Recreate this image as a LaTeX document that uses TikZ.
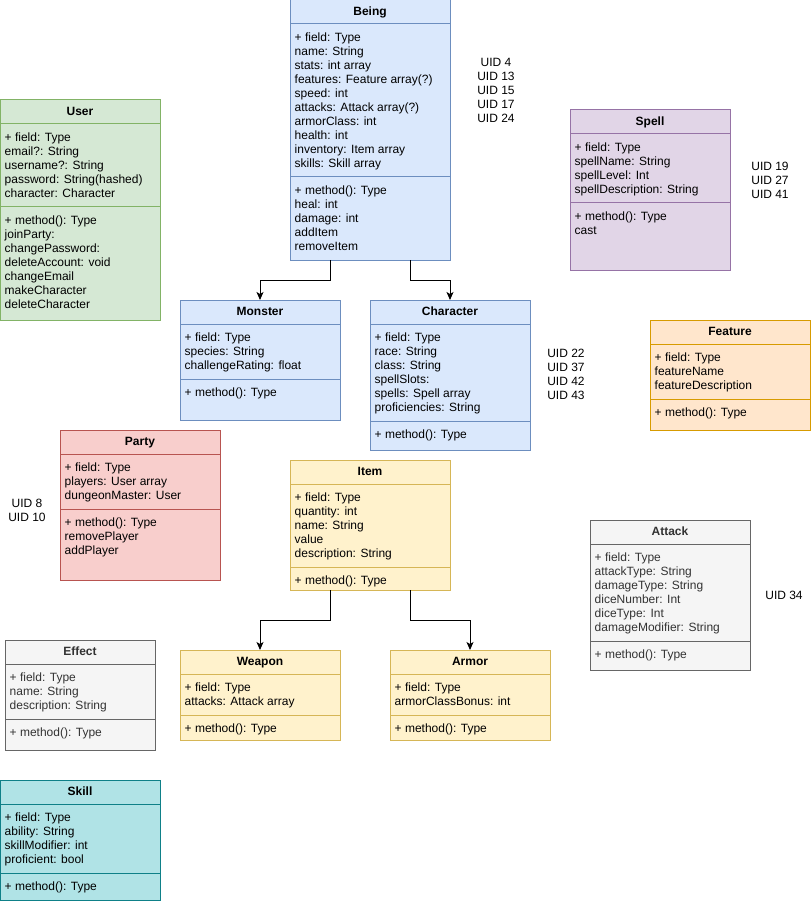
\documentclass[tikz,border=0pt]{standalone}
\usepackage{fontspec}
\setmainfont{Liberation Sans}
\usetikzlibrary{arrows.meta}
\definecolor{bluefill}{HTML}{DAE8FC}\definecolor{blueline}{HTML}{6C8EBF}
\definecolor{greenfill}{HTML}{D5E8D4}\definecolor{greenline}{HTML}{82B366}
\definecolor{purplefill}{HTML}{E1D5E7}\definecolor{purpleline}{HTML}{9673A6}
\definecolor{orangefill}{HTML}{FFE6CC}\definecolor{orangeline}{HTML}{D79B00}
\definecolor{redfill}{HTML}{F8CECC}\definecolor{redline}{HTML}{B85450}
\definecolor{yellowfill}{HTML}{FFF2CC}\definecolor{yellowline}{HTML}{D6B656}
\definecolor{grayfill}{HTML}{F5F5F5}\definecolor{grayline}{HTML}{666666}
\definecolor{tealfill}{HTML}{B0E3E6}\definecolor{tealline}{HTML}{0E8088}
\definecolor{darktext}{HTML}{333333}
\tikzset{
  classbox/.style={draw=#1line, fill=#1fill, line width=1pt, inner sep=0pt, outer sep=0pt, anchor=north west},
  sepline/.style={draw=#1line, line width=1pt},
  classtitle/.style={font=\fontsize{12}{14}\selectfont\bfseries, inner sep=0pt, anchor=base},
  membertext/.style={font=\fontsize{12}{14}\selectfont, inner sep=0pt, anchor=base west},
  uidtext/.style={font=\fontsize{12}{14}\selectfont, inner sep=0pt, anchor=base},
  inherit/.style={draw=black, line width=1pt, -{Stealth[length=8pt,width=7pt,inset=2pt]}},
}
% #1 name, #2 colour, #3 text colour, #4 x, #5 y, #6 w, #7 h, #8 y of second separator, #9 title
\newcommand\umlclass[9]{%
  \node[classbox=#2, minimum width=#6pt, minimum height=#7pt] (#1) at (#4,#5) {};
  \draw[sepline=#2] (#4,{#5+24}) -- ({#4+#6},{#5+24});
  \draw[sepline=#2] (#4,#8) -- ({#4+#6},#8);
  \node[classtitle, text=#3] (#1-title) at ({#4+#6/2},{#5+15.8}) {#9};
}
% #1 prefix, #2 box x, #3 centre y of first line, #4 text colour, #5 lines
\newcommand\umlmembers[5]{%
  \foreach \memberline [count=\k] in {#5} {
    \node[membertext, text=#4] (#1-\k) at ({#2+4.5},{#3+4.3+14*(\k-1)}) {\memberline};
  }
}
% #1 prefix, #2 centre x, #3 centre y of first line, #4 lines
\newcommand\uidlist[4]{%
  \foreach \uidline [count=\k] in {#4} {
    \node[uidtext] (#1-\k) at ({#2},{#3+4.3+14*(\k-1)}) {\uidline};
  }
}
\begin{document}
\begin{tikzpicture}[x=1pt,y=-1pt]
\useasboundingbox (0,0) rectangle (811,901);
\fill[white] (0,0) rectangle (811,901);

% Being
\umlclass{being}{blue}{black}{290}{0}{160}{260}{177}{Being}
\umlmembers{being-f}{290}{37}{black}{+ field: Type, name: String, stats: int array, features: Feature array(?), speed: int, attacks: Attack array(?), armorClass: int, health: int, inventory: Item array, skills: Skill array}
\umlmembers{being-m}{290}{190}{black}{+ method(): Type, heal: int, damage: int, addItem, removeItem}
\uidlist{being-uid}{496}{62.5}{UID 4, UID 13, UID 15, UID 17, UID 24}

% User
\umlclass{user}{green}{black}{0}{100}{160}{220}{207}{User}
\umlmembers{user-f}{0}{137}{black}{+ field: Type, email?: String, username?: String, password: String(hashed), character: Character}
\umlmembers{user-m}{0}{220}{black}{+ method(): Type, joinParty:, changePassword:, deleteAccount: void, changeEmail, makeCharacter, deleteCharacter}

% Monster
\umlclass{monster}{blue}{black}{180}{300}{160}{120}{379}{Monster}
\umlmembers{monster-f}{180}{337}{black}{+ field: Type, species: String, challengeRating: float}
\umlmembers{monster-m}{180}{392}{black}{+ method(): Type}

% Character
\umlclass{character}{blue}{black}{370}{300}{160}{150}{421}{Character}
\umlmembers{character-f}{370}{337}{black}{+ field: Type, race: String, class: String, spellSlots:, spells: Spell array, proficiencies: String}
\umlmembers{character-m}{370}{434}{black}{+ method(): Type}
\uidlist{character-uid}{566}{353}{UID 22, UID 37, UID 42, UID 43}

% Spell
\umlclass{spell}{purple}{black}{570}{110}{160}{160}{203}{Spell}
\umlmembers{spell-f}{570}{147}{black}{+ field: Type, spellName: String, spellLevel: Int, spellDescription: String}
\umlmembers{spell-m}{570}{216}{black}{+ method(): Type, cast}
\uidlist{spell-uid}{770}{166.5}{UID 19, UID 27, UID 41}

% Feature
\umlclass{feature}{orange}{black}{650}{320}{160}{110}{399}{Feature}
\umlmembers{feature-f}{650}{357}{black}{+ field: Type, featureName, featureDescription}
\umlmembers{feature-m}{650}{412}{black}{+ method(): Type}

% Party
\umlclass{party}{red}{black}{60}{430}{160}{150}{509}{Party}
\umlmembers{party-f}{60}{467}{black}{+ field: Type, players: User array, dungeonMaster: User}
\umlmembers{party-m}{60}{522}{black}{+ method(): Type, removePlayer, addPlayer}
\uidlist{party-uid}{27}{503}{UID 8, UID 10}

% Item
\umlclass{item}{yellow}{black}{290}{460}{160}{130}{567}{Item}
\umlmembers{item-f}{290}{497}{black}{+ field: Type, quantity: int, name: String, value, description: String}
\umlmembers{item-m}{290}{580}{black}{+ method(): Type}

% Attack
\umlclass{attack}{gray}{darktext}{590}{520}{160}{150}{641}{Attack}
\umlmembers{attack-f}{590}{557}{darktext}{+ field: Type, attackType: String, damageType: String, diceNumber: Int, diceType: Int, damageModifier: String}
\umlmembers{attack-m}{590}{654}{darktext}{+ method(): Type}
\uidlist{attack-uid}{784}{595}{UID 34}

% Effect
\umlclass{effect}{gray}{darktext}{5}{640}{150}{110}{719}{Effect}
\umlmembers{effect-f}{5}{677}{darktext}{+ field: Type, name: String, description: String}
\umlmembers{effect-m}{5}{732}{darktext}{+ method(): Type}

% Weapon
\umlclass{weapon}{yellow}{black}{180}{650}{160}{90}{715}{Weapon}
\umlmembers{weapon-f}{180}{687}{black}{+ field: Type, attacks: Attack array}
\umlmembers{weapon-m}{180}{728}{black}{+ method(): Type}

% Armor
\umlclass{armor}{yellow}{black}{390}{650}{160}{90}{715}{Armor}
\umlmembers{armor-f}{390}{687}{black}{+ field: Type, armorClassBonus: int}
\umlmembers{armor-m}{390}{728}{black}{+ method(): Type}

% Skill
\umlclass{skill}{teal}{black}{0}{780}{160}{120}{873}{Skill}
\umlmembers{skill-f}{0}{817}{black}{+ field: Type, ability: String, skillModifier: int, proficient: bool}
\umlmembers{skill-m}{0}{886}{black}{+ method(): Type}

% inheritance connectors
\draw[inherit] ([xshift=-40pt]being.south) -- ++(0,20) -| (monster.north);
\draw[inherit] ([xshift=40pt]being.south) -- ++(0,20) -| (character.north);
\draw[inherit] ([xshift=-40pt]item.south) -- ++(0,30) -| (weapon.north);
\draw[inherit] ([xshift=40pt]item.south) -- ++(0,30) -| (armor.north);
\end{tikzpicture}
\end{document}
